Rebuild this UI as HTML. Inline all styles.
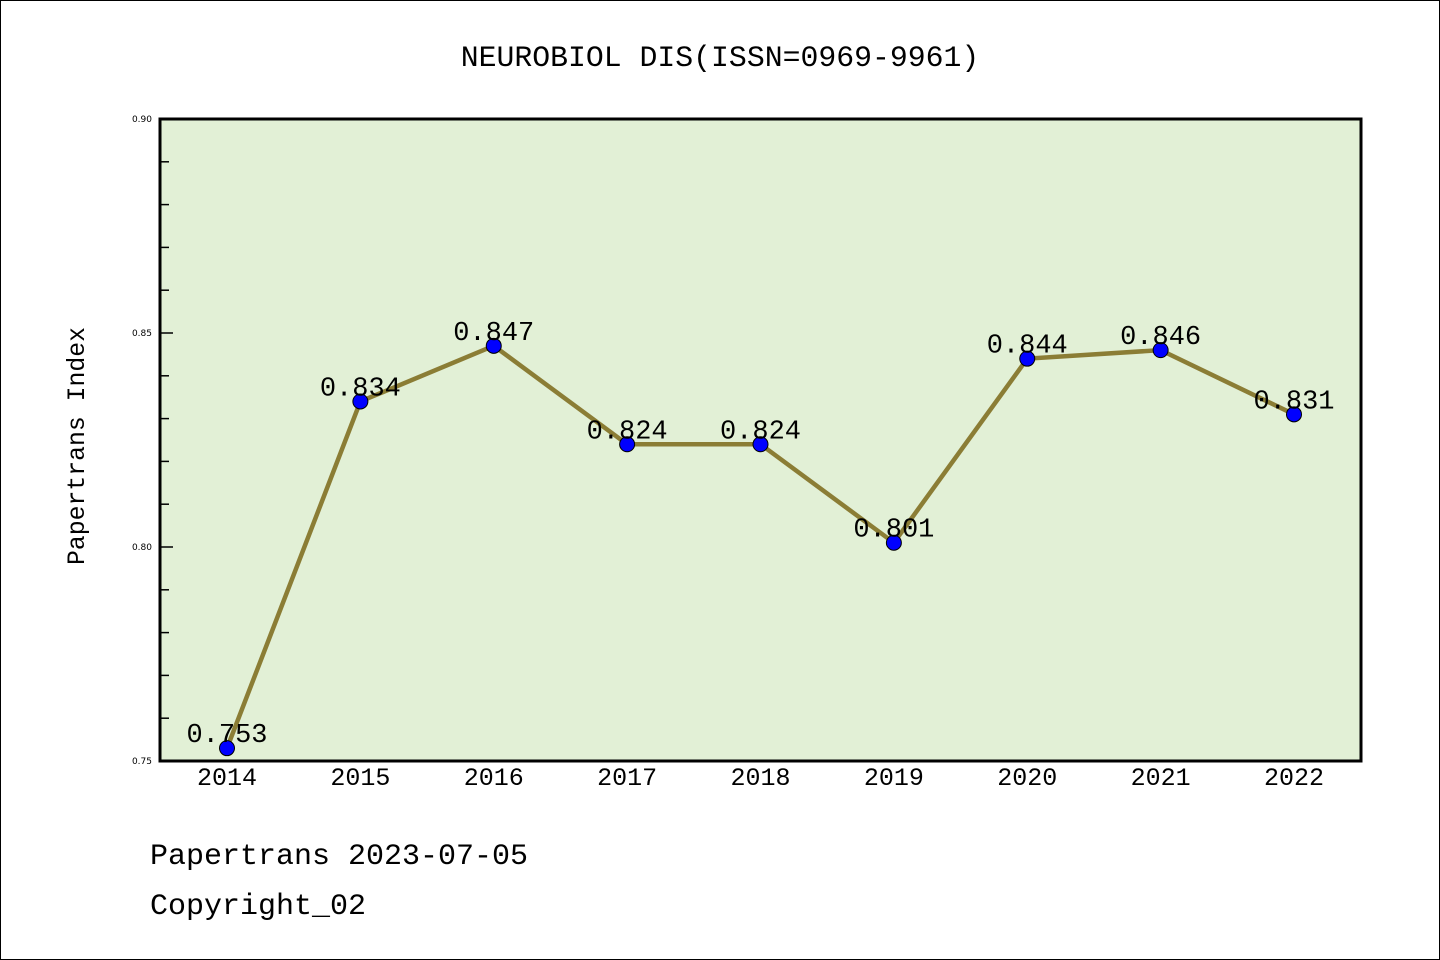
<!DOCTYPE html>
<html><head><meta charset="utf-8"><style>
html,body{margin:0;padding:0;background:#fff}
svg{display:block}
text{font-family:"Liberation Mono",monospace}
</style></head><body>
<svg width="1440" height="960" xmlns="http://www.w3.org/2000/svg">
<rect x="0.5" y="0.5" width="1439" height="959" fill="#fff" stroke="#000"/>
<text x="720" y="66" font-size="29.8" text-anchor="middle">NEUROBIOL DIS(ISSN=0969-9961)</text>
<rect x="160" y="119" width="1201" height="642" fill="#e2f0d6"/>
<g id="yticks"></g>
<g id="xticks"></g>
<polyline id="line" fill="none" stroke="#8b7d35" stroke-width="4.5"/>
<g id="points"></g>
<g id="labels"></g>
<rect x="160" y="119" width="1201" height="642" fill="none" stroke="#000" stroke-width="3"/>
<text x="84" y="446" font-size="24.8" text-anchor="middle" transform="rotate(-90 84 446)">Papertrans Index</text>
<text x="150" y="864" font-size="30">Papertrans 2023-07-05</text>
<text x="150" y="914" font-size="30">Copyright_02</text>
</svg>
<script>
const years=["2014","2015","2016","2017","2018","2019","2020","2021","2022"];
const values=[0.753,0.834,0.847,0.824,0.824,0.801,0.844,0.846,0.831];
const valueLabels=["0.753","0.834","0.847","0.824","0.824","0.801","0.844","0.846","0.831"];
const yTickLabels=["0.75","0.80","0.85","0.90"];
const yMin=0.75,yMax=0.90;
const NS="http://www.w3.org/2000/svg";
const X=i=>227+i*(1294-227)/(years.length-1);
const Y=v=>761-(v-yMin)/(yMax-yMin)*642;
function mk(t,a,p){const e=document.createElementNS(NS,t);for(const k in a)e.setAttribute(k,a[k]);p.appendChild(e);return e;}
const yt=document.getElementById('yticks');
for(let k=0;k<=15;k++){const v=yMin+k*0.01;const y=Y(v);const major=k%5===0;
 const l=mk('line',{x1:160,x2:major?173:169,y1:y,y2:y,stroke:'#000','stroke-width':1.5},yt);
 
 }
yTickLabels.forEach(s=>{const t=mk('text',{x:152,y:Y(parseFloat(s))+3,'font-size':9,'text-anchor':'end'},yt);t.style.fontFamily='"DejaVu Sans",sans-serif';t.textContent=s;
 
 });
const xt=document.getElementById('xticks');
years.forEach((s,i)=>{const t=mk('text',{x:X(i),y:785,'font-size':25,'text-anchor':'middle'},xt);t.textContent=s;
 
 });
document.getElementById('line').setAttribute('points',values.map((v,i)=>X(i)+','+Y(v)).join(' '));
const pg=document.getElementById('points'),lg=document.getElementById('labels');
values.forEach((v,i)=>{const c=mk('circle',{cx:X(i),cy:Y(v),r:7.5,fill:'#0000ff',stroke:'#000','stroke-width':1},pg);
 
 
 const t=mk('text',{x:X(i),y:Y(v)-6,'font-size':27,'text-anchor':'middle'},lg);t.textContent=valueLabels[i];
 
 });
</script>
</body></html>
